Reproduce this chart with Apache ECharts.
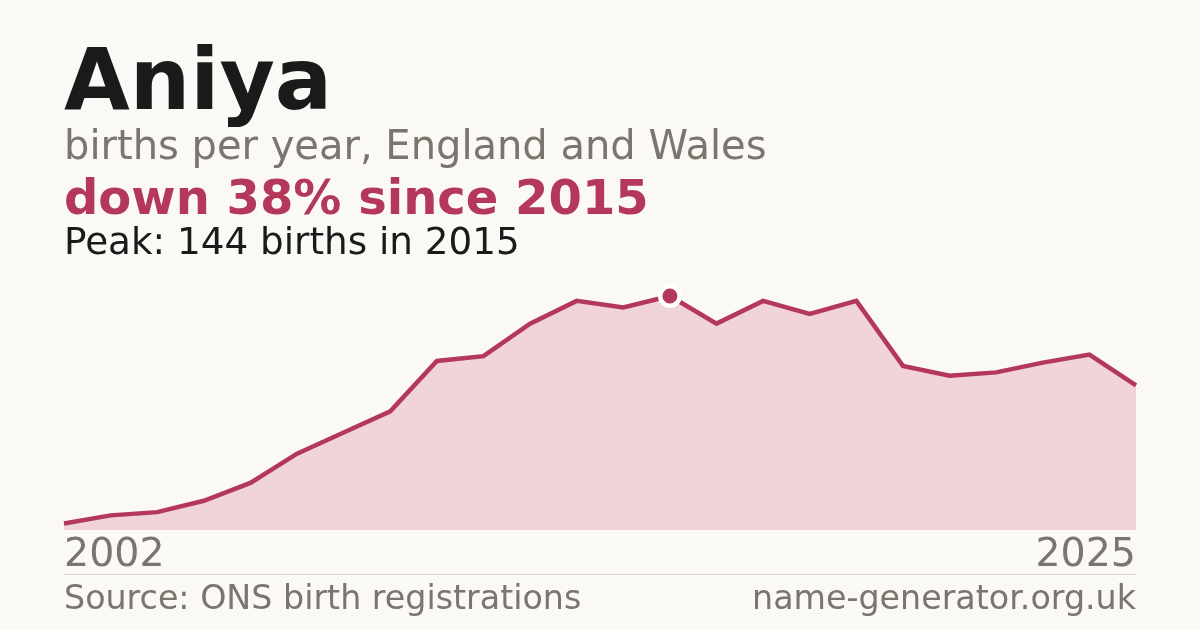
<!DOCTYPE html>
<html>
<head>
<meta charset="utf-8">
<script src="https://cdn.jsdelivr.net/npm/echarts@6/dist/echarts.min.js"></script>
<style>
html,body{margin:0;padding:0;background:#faf9f5;}
#chart{width:1200px;height:630px;}
</style>
</head>
<body>
<div id="chart"></div>
<script>
const years = ['2002','2003','2004','2005','2006','2007','2008','2009','2010','2011','2012','2013','2014','2015','2016','2017','2018','2019','2020','2021','2022','2023','2024','2025'];
const births = [4, 9, 11, 18, 29, 47, 60, 73, 104, 107, 127, 141, 137, 144, 127, 141, 133, 141, 101, 95, 97, 103, 108, 89];
const nameText = 'Aniya';
const subtitleText = 'births per year, England and Wales';
const changeText = 'down 38% since 2015';
const peakText = 'Peak: 144 births in 2015';
const sourceText = 'Source: ONS birth registrations';
const siteText = 'name-generator.org.uk';

const FONT = 'DejaVu Sans';
const RED = '#b3385a';
const GREY = '#7a756d';

const chart = echarts.init(document.getElementById('chart'));
chart.setOption({
  backgroundColor: '#faf9f5',
  animation: false,
  grid: {left: 64, right: 64, top: 296, bottom: 100},
  xAxis: {
    type: 'category',
    data: years,
    boundaryGap: false,
    axisLine: {show: false},
    axisTick: {show: false},
    splitLine: {show: false},
    axisLabel: {
      show: true,
      interval: function (i) { return i === 0 || i === years.length - 1; },
      alignMinLabel: 'left',
      alignMaxLabel: 'right',
      color: GREY,
      fontFamily: FONT,
      fontSize: 39.5,
      margin: 6,
      verticalAlign: 'top'
    }
  },
  yAxis: {
    type: 'value',
    min: 0,
    max: 144,
    show: false
  },
  series: [{
    type: 'line',
    data: births,
    showSymbol: false,
    lineStyle: {color: RED, width: 4.5, join: 'miter'},
    areaStyle: {color: '#f0d4da', opacity: 1},
    markPoint: {
      symbol: 'circle',
      symbolSize: 19.5,
      itemStyle: {color: RED, borderColor: '#ffffff', borderWidth: 4.5},
      label: {show: false},
      data: [{type: 'max'}]
    }
  }],
  graphic: [
    {type: 'text', left: 64, top: 44, style: {text: nameText, fontFamily: FONT, fontWeight: 'bold', fontSize: 85, fill: '#1a1a1a'}},
    {type: 'text', left: 64, top: 129, style: {text: subtitleText, fontFamily: FONT, fontSize: 40, fill: GREY}},
    {type: 'text', left: 64, top: 178, style: {text: changeText, fontFamily: FONT, fontWeight: 'bold', fontSize: 48, fill: RED}},
    {type: 'text', left: 64, top: 226, style: {text: peakText, fontFamily: FONT, fontSize: 37.3, fill: '#1a1a1a'}},
    {type: 'line', shape: {x1: 64, y1: 574.5, x2: 1136, y2: 574.5}, style: {stroke: '#ddd8cf', lineWidth: 1}},
    {type: 'text', left: 64, top: 584, style: {text: sourceText, fontFamily: FONT, fontSize: 33.3, fill: GREY}},
    {type: 'text', right: 64, top: 584, style: {text: siteText, fontFamily: FONT, fontSize: 33.3, fill: GREY}}
  ]
});
</script>
</body>
</html>
